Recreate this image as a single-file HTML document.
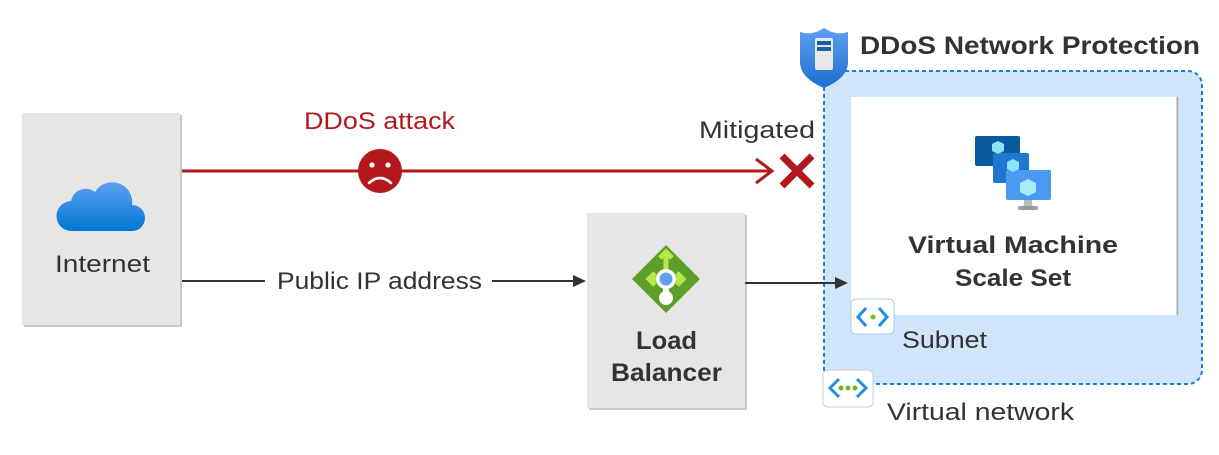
<!DOCTYPE html>
<html><head><meta charset="utf-8"><style>
body{margin:0;background:#fff;}
svg{display:block;font-family:"Segoe UI","Liberation Sans","DejaVu Sans",sans-serif;}
</style></head><body>
<svg width="1219" height="455" viewBox="0 0 1219 455">
<defs>
<linearGradient id="cl" x1="0" y1="0" x2="0" y2="1"><stop offset="0" stop-color="#5ea0ef"/><stop offset="1" stop-color="#0078d4"/></linearGradient>
<linearGradient id="sh" x1="0" y1="0" x2="0" y2="1"><stop offset="0" stop-color="#5ea0ef"/><stop offset="1" stop-color="#1b6fcf"/></linearGradient>
</defs>
<rect x="24" y="115" width="158" height="212" fill="#c8c8c8"/>
<rect x="22" y="113" width="158" height="212" fill="#e6e6e6"/>
<path d="M72 231 h60 a13 13 0 0 0 0-26 a20 20 0 0 0-37-13 a15 15 0 0 0-24 9 a15 15 0 0 0 1 30z" fill="url(#cl)"/>
<text x="55" y="272" font-size="24" fill="#333" textLength="95" lengthAdjust="spacingAndGlyphs">Internet</text>

<line x1="182" y1="171" x2="772" y2="171" stroke="#b3191c" stroke-width="3"/>
<polyline points="756,159 772,171 756,183" fill="none" stroke="#b3191c" stroke-width="3"/>
<circle cx="380" cy="171" r="22" fill="#b3191c"/>
<circle cx="372" cy="165" r="2.6" fill="#fff"/><circle cx="388" cy="165" r="2.6" fill="#fff"/>
<path d="M369 183 q11 -10 22 0" fill="none" stroke="#fff" stroke-width="2.6" stroke-linecap="round"/>
<text x="304" y="129" font-size="24" fill="#b3191c" textLength="151" lengthAdjust="spacingAndGlyphs">DDoS attack</text>
<text x="699" y="138" font-size="24" fill="#333" textLength="116" lengthAdjust="spacingAndGlyphs">Mitigated</text>
<path d="M782 156 L812 186 M812 156 L782 186" stroke="#b3191c" stroke-width="7"/>

<line x1="182" y1="281" x2="265" y2="281" stroke="#333" stroke-width="2"/>
<line x1="492" y1="281" x2="575" y2="281" stroke="#333" stroke-width="2"/>
<polygon points="573,275 586,281 573,287" fill="#333"/>
<text x="277" y="289" font-size="24" fill="#333" textLength="205" lengthAdjust="spacingAndGlyphs">Public IP address</text>

<rect x="589" y="215" width="158" height="195" fill="#c8c8c8"/>
<rect x="587" y="213" width="158" height="195" fill="#e6e6e6"/>
<polygon points="666,245 700,279 666,313 632,279" fill="#5e9f2c"/>
<path d="M666 252 v20 M648 279 h36 M660 258 l6-6 6 6 M655 273 l-6 6 6 6 M677 273 l6 6-6 6" stroke="#b6e846" stroke-width="5" fill="none"/>
<circle cx="666" cy="298" r="7" fill="#fff"/>
<rect x="663" y="282" width="6" height="14" fill="#fff"/>
<circle cx="666" cy="279" r="10" fill="#fff"/><circle cx="666" cy="279" r="6.5" fill="#5ea0ef"/>
<text x="636" y="349" font-size="25" font-weight="bold" fill="#333" textLength="61" lengthAdjust="spacingAndGlyphs">Load</text>
<text x="611" y="381" font-size="25" font-weight="bold" fill="#333" textLength="111" lengthAdjust="spacingAndGlyphs">Balancer</text>

<rect x="824" y="71" width="378" height="313" rx="14" fill="#d0e4fa" stroke="#1a7fd4" stroke-width="2" stroke-dasharray="4 3"/>
<line x1="745" y1="283" x2="838" y2="283" stroke="#333" stroke-width="2"/>
<polygon points="835,277 848,283 835,289" fill="#333"/>
<rect x="851" y="97" width="328" height="218" fill="#fff"/>
<line x1="1177.5" y1="97" x2="1177.5" y2="315" stroke="#aaa" stroke-width="2"/>
<rect x="975" y="136" width="45" height="30" rx="2" fill="#0a5aa0"/>
<rect x="993" y="153" width="36" height="30" rx="2" fill="#1e78d2"/>
<rect x="1006" y="170" width="45" height="30" rx="2" fill="#4a9bef"/>
<polygon points="1028,179 1036,183 1036,192 1028,196 1020,192 1020,183" fill="#a9ecf9"/>
<polygon points="998,141 1004,144 1004,151 998,154 992,151 992,144" fill="#8fe0f6"/>
<polygon points="1013,159 1019,162 1019,169 1013,172 1007,169 1007,162" fill="#8fe0f6"/>
<rect x="1024" y="200" width="8" height="6" fill="#bbb"/><rect x="1018" y="206" width="20" height="4" rx="2" fill="#999"/>
<text x="908" y="253" font-size="24" font-weight="bold" fill="#333" textLength="210" lengthAdjust="spacingAndGlyphs">Virtual Machine</text>
<text x="955" y="286" font-size="24" font-weight="bold" fill="#333" textLength="116" lengthAdjust="spacingAndGlyphs">Scale Set</text>
<rect x="851" y="299" width="43" height="35" rx="5" fill="#fff" stroke="#a8cdf2"/>
<path d="M866 308 l-8 9 8 9 M879 308 l8 9-8 9" fill="none" stroke="#1f8fe6" stroke-width="3"/>
<circle cx="873" cy="317" r="2.5" fill="#74b72a"/>
<text x="902" y="348" font-size="24" fill="#333" textLength="85" lengthAdjust="spacingAndGlyphs">Subnet</text>
<rect x="823" y="370" width="50" height="37" rx="5" fill="#fff" stroke="#ccc"/>
<path d="M839 379 l-9 9 9 9 M857 379 l9 9-9 9" fill="none" stroke="#1f8fe6" stroke-width="3"/>
<circle cx="841" cy="388" r="2.5" fill="#74b72a"/><circle cx="848" cy="388" r="2.5" fill="#74b72a"/><circle cx="855" cy="388" r="2.5" fill="#74b72a"/>
<text x="887" y="420" font-size="24" fill="#333" textLength="187" lengthAdjust="spacingAndGlyphs">Virtual network</text>
<path d="M824 28 q12 8 24 4 v30 q0 16 -24 26 q-24 -10 -24 -26 v-30 q12 4 24 -4z" fill="url(#sh)"/>
<rect x="815" y="38" width="18" height="32" rx="2" fill="#e8e8e8"/>
<rect x="817" y="41" width="14" height="4" fill="#1b5fa8"/><rect x="817" y="47" width="14" height="4" fill="#1b5fa8"/>
<text x="860" y="54" font-size="25" font-weight="bold" fill="#333" textLength="340" lengthAdjust="spacingAndGlyphs">DDoS Network Protection</text>
</svg>
</body></html>
